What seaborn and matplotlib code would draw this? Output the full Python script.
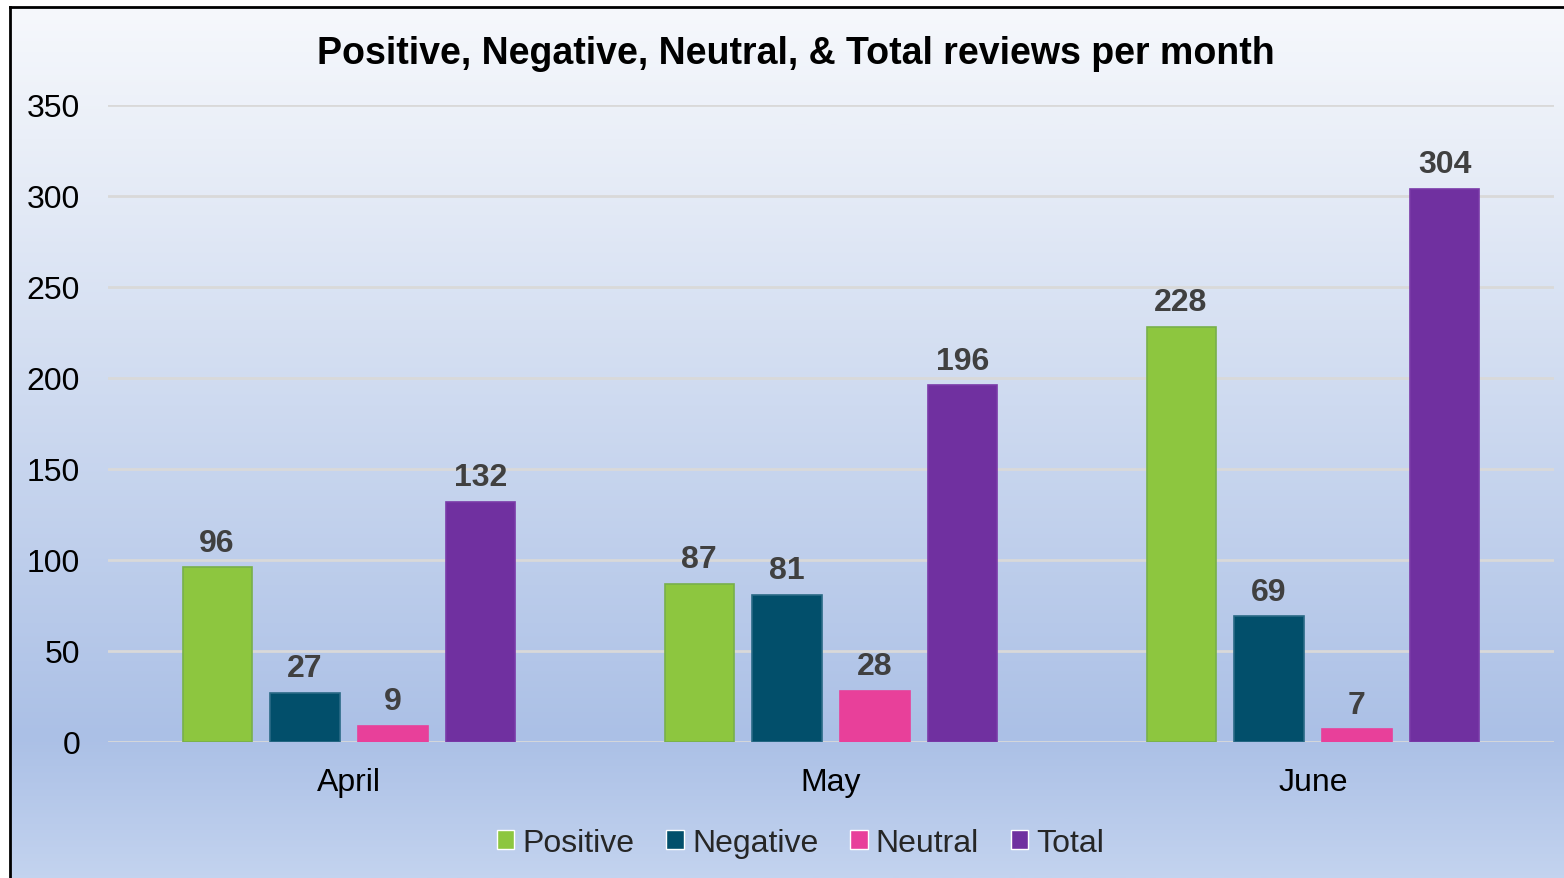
import numpy as np
import pandas as pd
import matplotlib
matplotlib.use("Agg")
import matplotlib.pyplot as plt
import seaborn as sns
from matplotlib.colors import LinearSegmentedColormap

months = ["April", "May", "June"]
series = ["Positive", "Negative", "Neutral", "Total"]
positive = [96, 87, 228]
negative = [27, 81, 69]
neutral = [9, 28, 7]
total = [132, 196, 304]
colors = ["#8dc63f", "#024f6b", "#e8409a", "#7030a0"]
y_ticks = [0, 50, 100, 150, 200, 250, 300, 350]
title = "Positive, Negative, Neutral, & Total reviews per month"

rows = []
for name, vals in zip(series, [positive, negative, neutral, total]):
    for m, v in zip(months, vals):
        rows.append({"Month": m, "Series": name, "Value": v})
df = pd.DataFrame(rows)

sns.set_theme(style="white")
plt.rcParams["font.family"] = ["Liberation Sans", "DejaVu Sans"]

W, H = 1564, 879
fig = plt.figure(figsize=(W / 100, H / 100), dpi=100)
fig.patch.set_facecolor("white")

# background gradient panel with border
bx0, by_top = 10, 8
bg = fig.add_axes([bx0 / W, 0, 1 - bx0 / W + 0.01, (H - by_top) / H])
cmap = LinearSegmentedColormap.from_list(
    "bg", [(0.0, "#f6f8fc"), (0.15, "#eaeff8"), (0.84, "#abc0e6"), (1.0, "#c3d3ef")])
grad = np.linspace(0, 1, 512).reshape(-1, 1)
bg.imshow(grad, aspect="auto", cmap=cmap, extent=[0, 1, 0, 1], origin="upper")
bg.set_xlim(0, 1); bg.set_ylim(0, 1)
bg.set_xticks([]); bg.set_yticks([])
for s in ["right", "bottom"]:
    bg.spines[s].set_visible(False)
for s in ["left", "top"]:
    bg.spines[s].set_color("black")
    bg.spines[s].set_linewidth(2)
bg.set_zorder(0)

ax_l, ax_r = 108, 1554
ax_top, ax_bot = 106, 743
ax = fig.add_axes([ax_l / W, (H - ax_bot) / H, (ax_r - ax_l) / W, (ax_bot - ax_top) / H])
ax.set_zorder(1)
ax.patch.set_alpha(0)

sns.barplot(data=df, x="Month", y="Value", hue="Series", order=months,
            hue_order=series, palette=colors, width=0.73, gap=0.215,
            ax=ax, saturation=1, legend=True)

edge_cols = ["#78b04a", "#2a6a86", "#e8409a", "#7a3aa8"]
for cont, ec in zip(ax.containers, edge_cols):
    for p in cont:
        p.set_edgecolor(ec)
        p.set_linewidth(1.2)
    ax.bar_label(cont, padding=7, fontsize=23, fontweight="bold", color="#404040")

ax.set_ylim(0, 350)
ax.set_xlim(-0.5, 2.5)
ax.set_yticks(y_ticks)
ax.yaxis.grid(True, color="#d9d9d9", linewidth=2)
ax.set_axisbelow(True)
for s in ax.spines.values():
    s.set_visible(False)
ax.tick_params(axis="both", length=0, labelsize=23, labelcolor="black")
ax.tick_params(axis="y", pad=20)
ax.tick_params(axis="x", pad=18)
ax.set_xlabel("")
ax.set_ylabel("")

leg = ax.legend(loc="upper center", bbox_to_anchor=(0.479, -0.09), ncol=4,
                frameon=False, fontsize=23, handlelength=0.55, handleheight=0.55,
                handletextpad=0.25, columnspacing=1.0)

fig.text(796 / W, 1 - 54 / H, title, ha="center", va="center",
         fontsize=27, fontweight="bold", color="black")

fig.savefig("out.png", dpi=100)
